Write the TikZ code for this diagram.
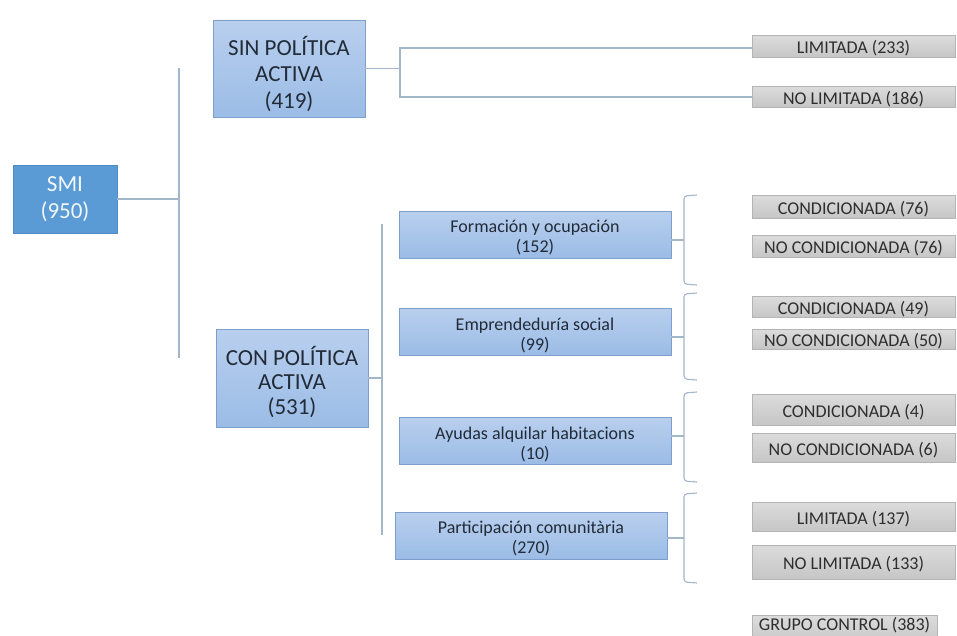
\documentclass[tikz,border=0pt]{standalone}
\usepackage{fontspec}
\setmainfont{Carlito}
\begin{document}
\begin{tikzpicture}[x=1pt,y=-1pt,
  conn/.style={draw=lineblue,line width=1.3pt},
  bigbox/.style={draw=boxedge,line width=0.8pt,top color=lbtop,bottom color=lbbot,minimum width=152pt,minimum height=97pt,inner sep=0pt},
  bigtext/.style={align=center,text=txtdark,font=\fontsize{23}{26.5}\selectfont,inner sep=0pt},
  subbox/.style={draw=boxedge,line width=0.8pt,top color=lbtop,bottom color=lbbot,minimum width=272pt,minimum height=47pt,inner sep=0pt},
  subtext/.style={align=center,text=txtdark,font=\fontsize{18}{20}\selectfont,inner sep=0pt},
  graybox/.style={draw=grayedge,line width=0.6pt,top color=gtop,bottom color=gbot,minimum width=203pt,
     text height=17pt,text depth=2pt,text=gtxt,font=\fontsize{18}{19}\selectfont,inner sep=0pt},
]
\definecolor{lineblue}{HTML}{A3B6CA}
\definecolor{boxedge}{HTML}{7E9FCB}
\definecolor{lbtop}{HTML}{B9CFEE}
\definecolor{lbbot}{HTML}{9BBCE6}
\definecolor{txtdark}{HTML}{222B38}
\definecolor{smifill}{HTML}{5B9BD5}
\definecolor{smiedge}{HTML}{4F8CC6}
\definecolor{gtop}{HTML}{DCDCDC}
\definecolor{gbot}{HTML}{C6C6C6}
\definecolor{grayedge}{HTML}{B4B4B4}
\definecolor{gtxt}{HTML}{2E2E2E}
\useasboundingbox[fill=white] (0,0) rectangle (957,635);
\clip (0,0) rectangle (957,635);

% main boxes
\node[draw=smiedge,fill=smifill,minimum width=104pt,minimum height=68pt,align=center,text=white!92!smifill,
  font=\fontsize{23}{27}\selectfont,inner sep=0pt] (smi) at (65,199) {SMI\\(950)};
\node[bigbox] (sin) at (289,68.5) {};
\node[bigtext] (sint) at ([yshift=-5pt]sin.center) {SIN POLÍTICA\\ACTIVA\\(419)};
\node[bigbox,minimum height=98pt] (con) at (292,378) {};
\node[bigtext,font=\fontsize{23}{24.5}\selectfont] (cont) at ([yshift=-3.5pt]con.center) {CON POLÍTICA\\ACTIVA\\(531)};

% sub boxes
\node[subbox] (form) at (535,234.5) {};
\node[subtext] at ([yshift=-3.5pt]form.center) {Formación y ocupación\\(152)};
\node[subbox] (empr) at (535,331.5) {};
\node[subtext] at ([yshift=-3.5pt]empr.center) {Emprendeduría social\\(99)};
\node[subbox] (ayud) at (535,440.5) {};
\node[subtext] at ([yshift=-3.5pt]ayud.center) {Ayudas alquilar habitacions\\(10)};
\node[subbox] (part) at (531,535.5) {};
\node[subtext] at ([yshift=-3.5pt]part.center) {Participación comunitària\\(270)};

% gray boxes
\node[graybox,minimum height=22pt] (lim1) at (853.5,46) {LIMITADA (233)};
\node[graybox,minimum height=21pt] (nolim1) at (853.5,96.5) {NO LIMITADA (186)};
\node[graybox,minimum height=23pt] (c76) at (853.5,206.5) {CONDICIONADA (76)};
\node[graybox,minimum height=22pt] (nc76) at (853.5,246) {NO CONDICIONADA (76)};
\node[graybox,minimum height=21pt] (c49) at (853.5,307) {CONDICIONADA (49)};
\node[graybox,minimum height=20pt] (nc50) at (853.5,339) {NO CONDICIONADA (50)};
\node[graybox,minimum height=31pt] (c4) at (853.5,409.5) {CONDICIONADA (4)};
\node[graybox,minimum height=29pt] (nc6) at (853.5,447.5) {NO CONDICIONADA (6)};
\node[graybox,minimum height=29pt] (l137) at (853.5,516.5) {LIMITADA (137)};
\node[graybox,minimum height=34pt] (nl133) at (853.5,562) {NO LIMITADA (133)};
\node[graybox,minimum width=185pt,minimum height=0pt,inner ysep=0pt,text height=15pt,text depth=14pt,
  anchor=north] (gc) at (844.5,615) {GRUPO CONTROL (383)};

% connectors level 1
\coordinate (j1) at (179,199);
\draw[conn] (smi.east) -- (j1);
\draw[conn] (179,68) -- (179,358);

% SIN branch
\coordinate (j2) at (400,68.5);
\coordinate (j2a) at (400,48);
\coordinate (j2b) at (400,97);
\draw[conn] (sin.east) -- (j2);
\draw[conn] (lim1.west |- j2a) -- (j2a) -- (j2b) -- (nolim1.west |- j2b);

% CON branch
\coordinate (j3) at (382,378);
\draw[conn] (con.east) -- (j3);
\draw[conn] (382,224) -- (382,535);

% braces
\foreach \b/\yt/\ym/\yb in {form/195/240/285, empr/293/337/380, ayud/392/436/482, part/493/538/583}{
  \draw[conn,line width=1.1pt,rounded corners=3pt] (697,\yt) -- (684,\yt+1) -- (684,\ym) -- (684,\yb-1) -- (697,\yb);
  \draw[conn,line width=1.1pt] (\b.east |- 0,\ym) -- (684,\ym);
}
\end{tikzpicture}
\end{document}
